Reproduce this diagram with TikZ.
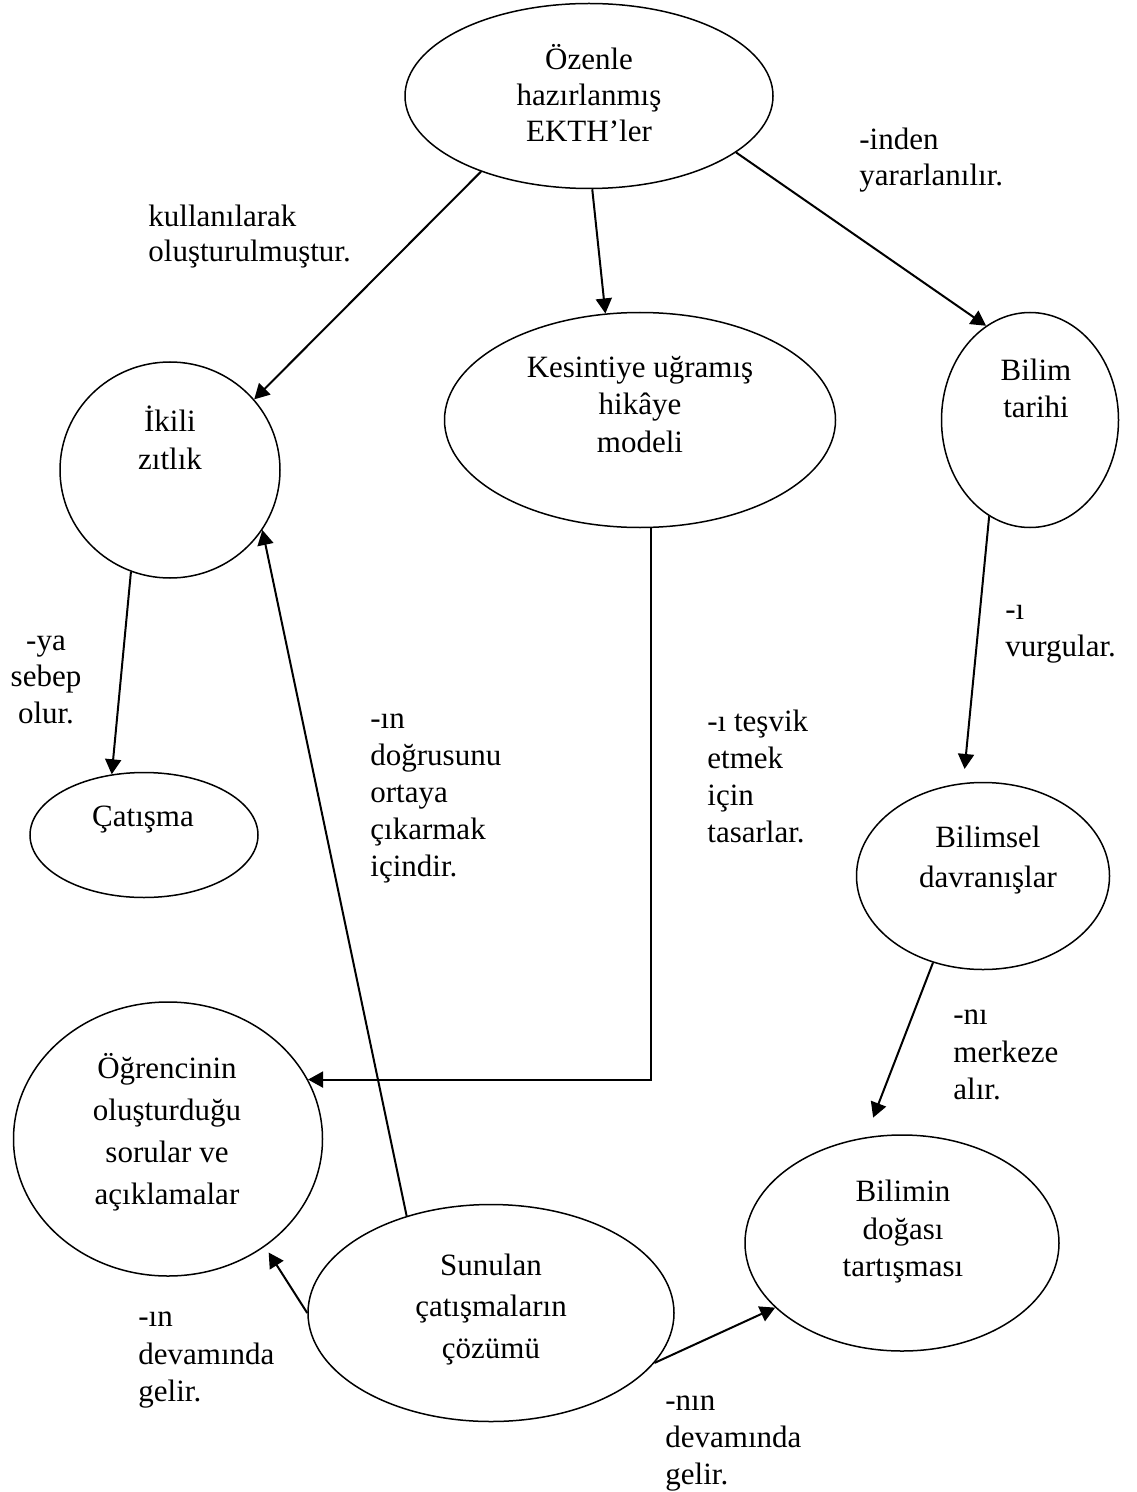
\documentclass[tikz,border=0pt]{standalone}
\usepackage{fontspec}
\setmainfont{Liberation Serif}
\usetikzlibrary{shapes.geometric, arrows.meta, positioning}
\tikzset{
  concept/.style={ellipse, draw=black, line width=0.75pt, inner sep=0pt},
  txt/.style={align=center, inner sep=0pt, font=\fontsize{15.5}{#1}\selectfont,
    execute at begin node=\strut, execute at end node=\strut},
  txt/.default=18.5,
  lbl/.style={align=left, anchor=north west, inner sep=0pt, font=\fontsize{15.5}{#1}\selectfont,
    execute at begin node=\strut, execute at end node=\strut},
  lbl/.default=18.5,
  arrow/.style={line width=1pt, -{Triangle[length=7.5pt, width=8pt]}}
}
\begin{document}
\begin{tikzpicture}[x=0.5pt, y=-0.5pt]
    \useasboundingbox (0,0) rectangle (1136,1492);

    % 1. Kavramlar (elipsler)
    \node[concept, minimum width=184pt, minimum height=92.5pt] (ekth) at (589,96) {};
    \node[txt=18] (ekth-t) at (589,98) {Özenle\\hazırlanmış\\EKTH’ler};

    \node[concept, minimum width=110pt, minimum height=108pt] (ikili) at (170,470) {};
    \node[txt=19] (ikili-t) at (170,443) {İkili\\zıtlık};

    \node[concept, minimum width=195.5pt, minimum height=107.5pt] (kesinti) at (640,420) {};
    \node[txt=18.75] (kesinti-t) at (640,410) {Kesintiye uğramış\\hikâye\\modeli};

    \node[concept, minimum width=88.5pt, minimum height=107.5pt] (bilim) at (1030,420) {};
    \node[txt] (bilim-t) at (1036,394) {Bilim\\tarihi};

    \node[concept, minimum width=114pt, minimum height=62.5pt] (catisma) at (144,835) {};
    \node[txt] (catisma-t) at (143,819) {Çatışma};

    \node[concept, minimum width=126.5pt, minimum height=93.5pt] (bilimsel) at (983,876) {};
    \node[txt=20] (bilimsel-t) at (988,863) {Bilimsel\\davranışlar};

    \node[concept, minimum width=154.5pt, minimum height=137pt] (ogrenci) at (168,1139) {};
    \node[txt=21] (ogrenci-t) at (167,1135) {Öğrencinin\\oluşturduğu\\sorular ve\\açıklamalar};

    \node[concept, minimum width=183pt, minimum height=108.5pt] (sunulan) at (491,1313) {};
    \node[txt=20.75] (sunulan-t) at (491,1312) {Sunulan\\çatışmaların\\çözümü};

    \node[concept, minimum width=157pt, minimum height=108pt] (bilimin) at (902,1243) {};
    \node[txt=18.75] (bilimin-t) at (903,1234) {Bilimin\\doğası\\tartışması};

    % 2. Oklar
    \draw[arrow] (ekth.215) -- (ikili.40);
    \draw[arrow] (ekth.272) -- (kesinti.108);
    \draw[arrow] (ekth.339) -- (bilim.115);
    \draw[arrow] (ikili.249) -- (catisma.118);
    \draw[arrow] (sunulan.131) -- (ikili.327);
    \draw[arrow] (kesinti.276) |- (ogrenci.23);
    \draw[arrow, shorten >=7pt] (bilim.247) -- (bilimsel.102);
    \draw[arrow, shorten >=10.5pt] (bilimsel.240) -- (bilimin.109);
    \draw[arrow, shorten >=3.5pt] (sunulan.180) -- (ogrenci.312);
    \draw[arrow] (sunulan.343) -- (bilimin.207);

    % 3. Ok etiketleri
    \node[lbl=17.5] (l-kullan) at (148,204.5) {kullanılarak\\oluşturulmuştur.};
    \node[lbl=18] (l-inden) at (859,127.8) {-inden\\yararlanılır.};
    \node[lbl=18.25, align=center, anchor=north] (l-sebep) at (46,635.5) {-ya\\sebep\\olur.};
    \node[lbl] (l-dogru) at (370,713) {-ın\\doğrusunu\\ortaya\\çıkarmak\\içindir.};
    \node[lbl] (l-tesvik) at (707,710) {-ı teşvik\\etmek\\için\\tasarlar.};
    \node[lbl] (l-vurgu) at (1005,605) {-ı\\vurgular.};
    \node[lbl=18.75] (l-merkez) at (953,1009.8) {-nı\\merkeze\\alır.};
    \node[lbl=18.75] (l-devam1) at (138,1311.8) {-ın\\devamında\\gelir.};
    \node[lbl] (l-devam2) at (665,1395) {-nın\\devamında\\gelir.};

\end{tikzpicture}
\end{document}
